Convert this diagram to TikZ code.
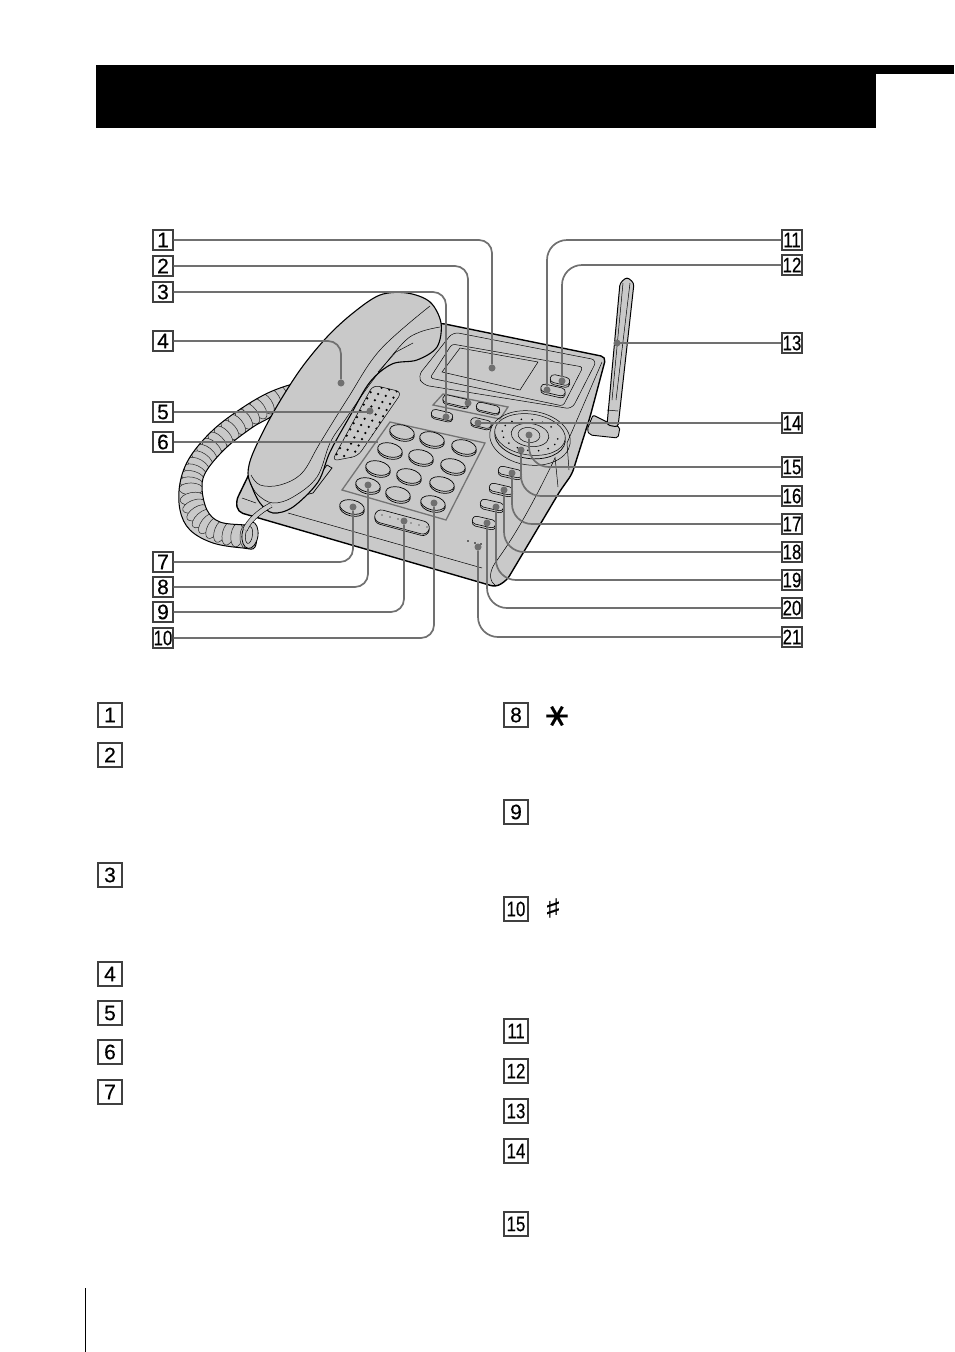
\documentclass[tikz,border=0pt]{standalone}
\usepackage{graphicx}
\usepackage{amssymb}
\usepackage{fontspec}
\setmainfont{Liberation Sans}
\newfontfamily\numfont[FakeBold=.4]{Liberation Sans}
\newfontfamily\symfont[FakeBold=.3]{DejaVu Sans}
\usetikzlibrary{shapes.geometric,shapes.misc}
\definecolor{bodygray}{gray}{.79}
\definecolor{leadgray}{gray}{.44}
\newcommand{\dd}[1]{\scalebox{.8}[1]{#1}}
\tikzset{
  numbox/.style={draw=black!75,fill=white,line width=1.2pt,minimum size=20pt,inner sep=0pt,font=\numfont\fontsize{21}{21}\selectfont},
  listbox/.style={numbox,minimum size=24pt},
  leader/.style={draw=leadgray,line width=1.7pt,rounded corners=13pt},
  leadertwo/.style={leader,rounded corners=20pt},
  pindot/.style={circle,fill=leadgray,minimum size=7pt,inner sep=0pt},
  body/.style={draw=black,fill=bodygray,line width=.7pt},
  thinline/.style={draw=black,line width=.5pt},
  frameline/.style={draw=black!55,line width=1.3pt},
  key/.style={ellipse,draw=black,fill=bodygray,line width=.7pt,minimum width=25pt,minimum height=14pt,inner sep=0pt,rotate=-13},
  btn/.style={rounded rectangle,draw=black,fill=bodygray,line width=.6pt,inner sep=0pt,minimum height=8pt,rotate=-13},
  ring/.style={ellipse,draw=black!85,fill=bodygray,line width=.5pt,minimum width=12pt,minimum height=24pt,inner sep=0pt,sloped}
}
\begin{document}
\begin{tikzpicture}[x=1pt,y=-1pt]
  \useasboundingbox (0,0) rectangle (954,1352);

  % title bar and page rule
  \fill[black] (96,65) rectangle (876,128);
  \fill[black] (876,65) rectangle (954,74);
  \draw[line width=.8pt] (85,1288) -- (85,1352);

  % coiled cord
  \begin{scope}
    \clip plot[smooth cycle,tension=.6] coordinates {(296,384) (270,392) (242,408) (213,430) (190,457) (180,483) (180,510) (190,530) (213,543) (243,548) (255,547) (256,526) (245,525) (220,522) (207,510) (202,487) (207,470) (227,447) (253,427) (273,415) (284,398)};
    \fill[bodygray] (170,370) rectangle (300,560);
    \path (288,390) .. controls (245,415) and (190,455) .. (191,490)
      foreach \p [count=\i] in {0,.055,...,1} {node[ring,pos=\p] (ra\i) {}};
    \path (191,490) .. controls (192,520) and (215,534) .. (246,536)
      foreach \p [count=\i] in {.1,.2,...,1} {node[ring,pos=\p] (rb\i) {}};
  \end{scope}
  \draw[black,line width=1pt] plot[smooth cycle,tension=.6] coordinates {(296,384) (270,392) (242,408) (213,430) (190,457) (180,483) (180,510) (190,530) (213,543) (243,548) (255,547) (256,526) (245,525) (220,522) (207,510) (202,487) (207,470) (227,447) (253,427) (273,415) (284,398)};
  \node[ellipse,draw=black,fill=bodygray,line width=.8pt,minimum width=16pt,minimum height=27pt,inner sep=0pt,rotate=-8] (coilend) at (250,535) {};
  \node[ellipse,draw=black,line width=.5pt,minimum width=7pt,minimum height=17pt,inner sep=0pt,rotate=-8] (coilhole) at (249,535) {};

  % base of the telephone
  \draw[body,line width=1.4pt,rounded corners=5pt] (440,323) -- (606,357) -- (590,417) -- (572,474) -- (560,491) -- (507,580) -- (496,587) -- (238,512) -- (236,501) -- (252,468) -- (330,370) -- cycle;
  \draw[thinline,rounded corners=6pt] (453,332) -- (597,360) -- (572,409) -- (423,385) -- (418,376) -- cycle;
  \draw[thinline,rounded corners=3pt] (452,344) -- (583,367) -- (563,406) -- (430,378) -- cycle;
  \draw[thinline] (460,348) -- (538,362) -- (520,390) -- (442,372) -- cycle;
  \draw[thinline] (602,362) -- (567,443) -- (569,470);
  \draw[thinline] (555,457) -- (558,487);
  \draw[thinline] (555,458) .. controls (530,510) and (512,540) .. (495,563) .. controls (488,574) and (490,582) .. (496,586);
  \draw[thinline] (242,498) -- (256,503);
  \draw[thinline] (288,513) -- (482,568);
  \draw[body] (327,465) -- (332,468) -- (313,493) -- (305,495) -- cycle;

  % buttons at the display
  \foreach \k/\x/\y/\w in {btnb/560/380/20,btna/553/390/25}{
    \node[btn,minimum width=\w pt] (\k s) at (\x,\y+2) {};
    \node[btn,minimum width=\w pt] (\k) at (\x,\y) {};
  }

  % button rows
  \draw[frameline] (443,394) -- (508,407) -- (500,419) -- (433,405) -- cycle;
  \foreach \k/\x/\y/\w in {btnc/456/401/27,btnd/488/408/24,btne/442/415/22,btnf/481/423/21}{
    \node[btn,minimum width=\w pt] (\k s) at (\x,\y+1.5) {};
    \node[btn,minimum width=\w pt] (\k) at (\x,\y) {};
  }

  % dial
  \node[ellipse,draw=black,line width=.5pt,minimum width=81pt,minimum height=54pt,rotate=-8] (dialout) at (530,438) {};
  \node[ellipse,draw=black,fill=bodygray,line width=.7pt,minimum width=71pt,minimum height=43pt,rotate=-8] (dialrim) at (530,437) {};
  \node[ellipse,draw=black,fill=bodygray,line width=.5pt,minimum width=71pt,minimum height=41pt,rotate=-8] (dialmid) at (530,434.5) {};
  \node[ellipse,draw=black,line width=.5pt,minimum width=38pt,minimum height=23pt,rotate=-8] (dialin) at (530,435) {};
  \node[ellipse,draw=black,line width=.5pt,minimum width=22pt,minimum height=15pt,rotate=-8] (dialcap) at (529,435) {};
  \begin{scope}[shift={(530,435)},rotate=-8]
    \foreach \a in {0,22.5,...,337}
      \fill ({28*cos(\a)},{15.5*sin(\a)}) circle (.9pt);
  \end{scope}

  % side buttons
  \foreach \k/\x/\y in {btng/510/472,btnh/501/489,btni/492/505,btnj/484/522}{
    \node[btn,minimum width=24pt] (\k s) at (\x,\y+2) {};
    \node[btn,minimum width=24pt] (\k) at (\x,\y) {};
  }

  % microphone holes
  \foreach \x/\y in {468/541,475/543,481/544}
    \fill (\x,\y) circle (.8pt);

  % speaker
  \begin{scope}
    \draw[thinline,rounded corners=6pt] (373,385) -- (402,392) -- (358,456) -- (332,461) -- cycle;
    \clip[rounded corners=6pt] (373,385) -- (402,392) -- (358,456) -- (332,461) -- cycle;
    \foreach \i in {0,...,12}
      \foreach \j in {0,...,9}
        \fill (374+\j*7.6-\i*3.4,386+\j*1.8+\i*6.2) circle (1.25pt);
  \end{scope}

  % key pad
  \draw[frameline] (390,422) -- (485,443) -- (446,520) -- (342,490) -- cycle;
  \foreach \x/\y [count=\k] in {402/432,432/439,464/447,390/450,421/457,453/466,378/468,409/476,442/484,368/485,398/494,433/503,352/507}{
    \node[key] (keys\k) at (\x,\y+2) {};
    \node[key] (key\k) at (\x,\y) {};
  }
  \node[btn,minimum width=56pt,minimum height=13pt,rotate=-2] (btnks) at (402,523.5) {};
  \node[btn,minimum width=56pt,minimum height=13pt,rotate=-2] (btnk) at (402,522) {};
  \foreach \x/\y in {382/515,390/517,398/519,411/523,419/525,427/527}
    \fill (\x,\y) circle (.7pt);

  % handset
  \draw[body,line width=1.1pt] plot[smooth cycle,tension=.55] coordinates {(380,295) (407,293) (430,302) (441,323) (437,347) (417,360) (392,364) (370,382) (350,416) (330,452) (318,482) (293,507) (273,513) (260,503) (252,487) (248,473) (253,453) (273,413) (300,370) (327,337) (353,313)};
  \draw[thinline] plot[smooth,tension=.6] coordinates {(430,306) (380,350) (348,398) (320,443) (302,473) (280,485) (260,485) (251,475)};
  \draw[thinline] plot[smooth,tension=.6] coordinates {(440,327) (420,332) (403,343) (373,380) (345,420) (330,443) (317,477) (293,497) (273,503) (258,495) (250,483)};
  \draw[thinline] (413,343) -- (396,352) -- (378,372);
  \draw[draw=black,double=bodygray,double distance=4pt,line width=.6pt] (271,505) .. controls (258,512) and (248,522) .. (245,530);

  % antenna
  \draw[body,line width=.9pt,rounded corners=2pt] (613,425) -- (593,415) -- (587,430) -- (590,435) -- (618,438) -- (620,427) -- cycle;
  \draw[body,line width=1pt,rounded corners=3pt] (607,425) -- (620,283) -- (627,277) -- (634,283) -- (618,427) -- cycle;
  \draw[thinline] (623,283) -- (612,400);
  \draw[thinline] (630,283) -- (616,400);
  \draw[thinline] (607,410) -- (618,411);

  % targets of the leaders
  \foreach \n/\x/\y in {1/492/368,2/468/403,3/446/417,4/341/383,5/370/411,7/353/507,8/368/485,9/404/521,10/434/503,11/547/390,12/562/381,13/617/343,14/478/423,15/529/435,16/521/450,17/512/473,18/504/490,19/496/507,20/487/523,21/478/547}
    \node[pindot] (t\n) at (\x,\y) {};
  \coordinate (t6) at (378,442);

  % labels at the picture
  \foreach \n/\l/\y in {1/1/240,2/2/266,3/3/292,4/4/341,5/5/412,6/6/442,7/7/562,8/8/587,9/9/612,10/\dd{10}/638}
    \node[numbox] (n\n) at (163,\y) {\l};
  \foreach \n/\y in {11/240,12/265,13/343,14/423,15/467,16/496,17/524,18/552,19/580,20/608,21/637}
    \node[numbox] (n\n) at (792,\y) {\dd{\n}};

  % leaders
  \foreach \n in {1,2,3,4,7,8,9,10}
    \draw[leader] (n\n.east) -| (t\n);
  \foreach \n in {5,6}
    \draw[leader] (n\n.east) -- (t\n |- n\n.east);
  \foreach \n in {11,12,15,16,17,18,19,20,21}
    \draw[leadertwo] (n\n.west) -| (t\n);
  \foreach \n in {13,14}
    \draw[leader] (n\n.west) -- (t\n |- n\n.west);

  % numbers of the list
  \foreach \n/\y in {1/715,2/755,3/875,4/974,5/1013,6/1052,7/1092}
    \node[listbox] (l\n) at (110,\y) {\n};
  \foreach \n/\l/\y in {8/8/715,9/9/812,10/\dd{10}/909,11/\dd{11}/1031,12/\dd{12}/1071,13/\dd{13}/1111,14/\dd{14}/1151,15/\dd{15}/1224}
    \node[listbox] (l\n) at (516,\y) {\l};
  \node[rotate=90,inner sep=0pt,font=\symfont\fontsize{34}{34}\selectfont] (star) at (557,716) {∗};
  \node[inner sep=0pt,font=\symfont\fontsize{22}{22}\selectfont] (hash) at (553,908) {\scalebox{1.7}[1.2]{♯}};
\end{tikzpicture}
\end{document}
